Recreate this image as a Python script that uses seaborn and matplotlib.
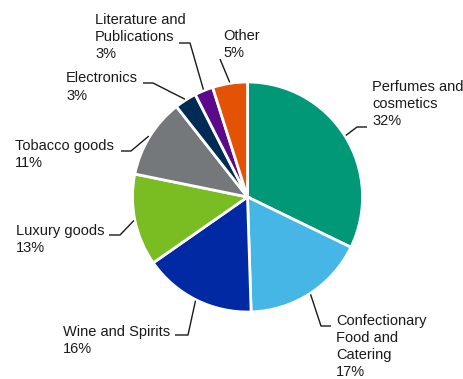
import matplotlib
matplotlib.use("Agg")
import matplotlib.pyplot as plt
import seaborn as sns
import numpy as np

categories = ["Perfumes and\ncosmetics", "Confectionary\nFood and\nCatering", "Wine and Spirits",
              "Luxury goods", "Tobacco goods", "Electronics", "Literature and\nPublications", "Other"]
shares = [32.2, 17.3, 15.8, 12.9, 11.2, 3.1, 2.6, 4.9]
colors = ["#009877", "#45b6e6", "#0029a3", "#79bd22", "#75787b", "#002b55", "#5b0a8c", "#e35205"]

# label layout (pixel coords, y from top): text anchor and leader elbow/end
text_pos = [(372, 104), (336, 346.5), (63, 340.5), (16, 239.5), (15, 154.5), (66, 87), (95, 37), (223, 44.5)]
elbows = [((357, 127), (367, 127)), ((321, 326), (331, 326)), ((188, 335), (175, 335)),
          ((120, 235), (109, 235)), ((131, 151), (121, 151)), ((153, 83), (143, 83)),
          ((190, 43), (179, 43)), ((220, 59), (220, 59))]

sns.set_theme(style="white")
plt.rcParams['font.family'] = ['Liberation Sans', 'DejaVu Sans']

W, H = 464, 379
fig = plt.figure(figsize=(W / 100, H / 100), dpi=100)
ax = fig.add_axes([0, 0, 1, 1])
cx, cy, r = 247.5, H - 197, 115

wedges, _ = ax.pie(shares, colors=colors, startangle=90, counterclock=False,
                   center=(cx, cy), radius=r,
                   wedgeprops=dict(edgecolor="white", linewidth=2))
ax.set_xlim(0, W)
ax.set_ylim(0, H)
ax.set_aspect("equal")
ax.axis("off")

total = sum(shares)
for w, cat, v, (tx, ty), (el, en) in zip(wedges, categories, shares, text_pos, elbows):
    mid = np.deg2rad((w.theta1 + w.theta2) / 2)
    sx, sy = cx + 116 * np.cos(mid), cy + 116 * np.sin(mid)
    ax.plot([sx, el[0], en[0]], [sy, H - el[1], H - en[1]], color="#1a1a1a", lw=1.0,
            solid_capstyle="butt")
    ax.text(tx, H - ty, f"{cat}\n{round(v / total * 100)}%", ha="left", va="center",
            fontsize=10.5, color="#1a1a1a", linespacing=1.3)

fig.savefig("out.png", dpi=100)
